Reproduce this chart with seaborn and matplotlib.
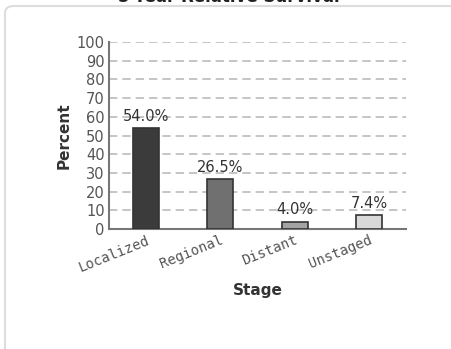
import pandas as pd
import numpy as np
from matplotlib import pyplot as plt
from matplotlib.patches import FancyBboxPatch
import seaborn as sns

# values
stages = ['Localized', 'Regional', 'Distant', 'Unstaged']
survival = [54.0, 26.5, 4.0, 7.4]
bar_colors = ['#3b3b3b', '#707070', '#a3a3a3', '#d9d9d9']
yticks = list(range(0, 101, 10))

df = pd.DataFrame({'stage': stages, 'pct': survival})

sns.set_style('white')
fig = plt.figure(figsize=(4.51, 3.49), dpi=100)

# rounded panel frame (only top/left edges visible)
frame = FancyBboxPatch((5 / 451, -0.2), 1.2, 1 - 6 / 349 + 0.2,
                       boxstyle='round,pad=0,rounding_size=0.02',
                       transform=fig.transFigure, fill=False,
                       edgecolor='#dddddd', linewidth=1.5)
fig.patches.append(frame)

# title sits partly above the picture, as in the reference
fig.text(0.508, 1 - 2 / 349, '5-Year Relative Survival', ha='center', va='baseline',
         fontsize=12, fontweight='bold', color='#222222')

ax = fig.add_axes([109 / 451, 1 - 229 / 349, 297 / 451, 187 / 349])
sns.barplot(data=df, x='stage', y='pct', hue='stage', palette=bar_colors,
            width=0.35, edgecolor='#333333', linewidth=1.2, legend=False, ax=ax,
            zorder=3)

ax.set_xlim(-0.5, 3.5)
ax.set_ylim(0, 100)
ax.set_yticks(yticks)
ax.yaxis.grid(True, linestyle=(0, (5, 3)), color='#bbbbbb', linewidth=1.2, zorder=0)
ax.set_axisbelow(True)
for s in ['top', 'right']:
    ax.spines[s].set_visible(False)
for s in ['left', 'bottom']:
    ax.spines[s].set_color('#777777')
    ax.spines[s].set_linewidth(1.5)
ax.tick_params(axis='both', length=0, colors='#555555')
ax.tick_params(axis='y', labelsize=10.5, pad=3)
ax.set_xticks(range(len(stages)))
ax.set_xticklabels(stages, rotation=22, ha='right', rotation_mode='anchor',
                   family='DejaVu Sans Mono', fontsize=10, color='#555555')
ax.tick_params(axis='x', pad=3)

for i, v in enumerate(survival):
    ax.annotate('%.1f%%' % v, (i, v), xytext=(0, 3), textcoords='offset points',
                ha='center', va='bottom', fontsize=10.5, color='#333333')

ax.set_xlabel('Stage', fontsize=11, fontweight='bold', color='#333333', labelpad=6)
ax.set_ylabel('Percent', fontsize=11, fontweight='bold', color='#333333', labelpad=4)

plt.savefig('out.png', dpi=100)
